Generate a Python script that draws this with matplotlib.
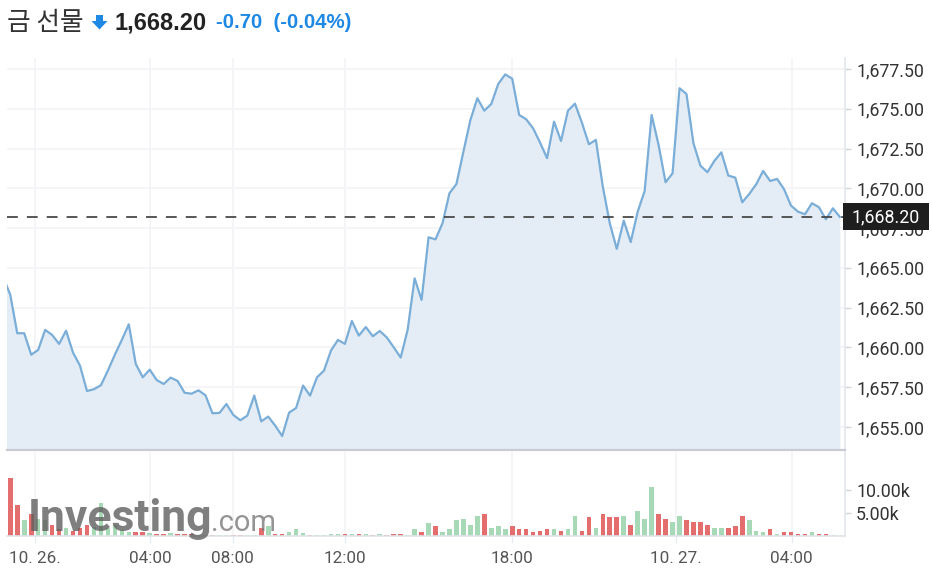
import matplotlib
matplotlib.use("Agg")
import matplotlib.pyplot as plt
import matplotlib.transforms as mtransforms
from matplotlib.patches import Rectangle, Polygon
import numpy as np

# ---------------- data ----------------
title_name = "금 선물"
last_price_text = "1,668.20"
change_text = "-0.70  (-0.04%)"
last_price = 1668.20

# 15-minute closes, bar index -1 .. 119
price = [1664.40,
    1663.30, 1660.89, 1660.89, 1659.54, 1659.84, 1661.10, 1660.78, 1660.22, 1661.05, 1659.67,
    1658.85, 1657.26, 1657.37, 1657.62, 1658.54, 1659.54, 1660.47, 1661.45, 1658.96, 1658.12,
    1658.60, 1657.95, 1657.70, 1658.10, 1657.89, 1657.15, 1657.09, 1657.30, 1656.99, 1655.86,
    1655.88, 1656.44, 1655.75, 1655.42, 1655.71, 1656.97, 1655.35, 1655.65, 1655.08, 1654.43,
    1655.90, 1656.19, 1657.60, 1656.97, 1658.12, 1658.54, 1659.80, 1660.47, 1660.22, 1661.66,
    1660.74, 1661.28, 1660.70, 1661.03, 1660.63, 1660.01, 1659.36, 1661.10, 1664.34, 1662.98,
    1666.92, 1666.79, 1667.80, 1669.69, 1670.27, 1672.30, 1674.29, 1675.66, 1674.88, 1675.30,
    1676.56, 1677.16, 1676.89, 1674.61, 1674.34, 1673.77, 1672.87, 1671.89, 1674.19, 1672.97,
    1674.88, 1675.32, 1674.13, 1672.77, 1673.04, 1670.10, 1667.80, 1666.19, 1667.97, 1666.62,
    1668.53, 1669.83, 1674.61, 1672.72, 1670.38, 1670.94, 1676.29, 1675.93, 1672.83, 1671.42,
    1671.01, 1671.72, 1672.26, 1670.80, 1670.67, 1669.12, 1669.64, 1670.25, 1671.09, 1670.46,
    1670.59, 1669.94, 1668.91, 1668.53, 1668.37, 1669.06, 1668.81, 1668.05, 1668.74, 1668.20]

# volume per bar, bar index 0 .. 119
volume = [
    12600, 6740, 3480, 4860, 3600, 3500, 2400, 1450, 1700, 1100,
    1700, 2400, 2000, 7100, 1800, 2400, 1200, 900, 900, 900,
    600, 500, 500, 700, 500, 360, 360, 300, 300, 300,
    300, 300, 300, 200, 300, 300, 1800, 2200, 500, 500,
    870, 1450, 600, 200, 200, 200, 500, 500, 500, 500,
    360, 360, 200, 360, 200, 360, 500, 200, 1450, 870,
    2750, 2170, 800, 1450, 3480, 3700, 2400, 4350, 4710, 1740,
    2100, 1450, 2100, 1450, 1450, 870, 1090, 1450, 1450, 1160,
    1450, 4350, 1160, 4060, 1740, 4710, 4060, 4060, 4350, 2460,
    5360, 3700, 10580, 4710, 3700, 3040, 4350, 3410, 3040, 3040,
    2400, 1740, 1740, 1740, 2100, 4350, 3410, 1090, 800, 1450,
    430, 800, 800, 500, 500, 800, 500, 500, 200, 100]

# time-axis labels and the bar index at which each falls
time_labels = ["10. 26.", "04:00", "08:00", "12:00", "18:00", "10. 27.", "04:00"]
time_pos = [3.54, 20.04, 31.9, 48.0, 72.0, 95.5, 112.1]

price_ticks = [1655.0, 1657.5, 1660.0, 1662.5, 1665.0, 1667.5, 1670.0, 1672.5, 1675.0, 1677.5]
vol_ticks = [5000, 10000]
vol_tick_labels = ["5.00k", "10.00k"]

# ---------------- figure ----------------
W, H = 932, 583
fig = plt.figure(figsize=(W / 100, H / 100), dpi=100)
fig.patch.set_facecolor("white")

def fy(py):
    return 1 - py / H

def fx(px):
    return px / W

left_px, right_px = 7, 845
ax = fig.add_axes([fx(left_px), fy(450), fx(right_px - left_px), fy(58) - fy(450)])
axv = fig.add_axes([fx(left_px), fy(536), fx(right_px - left_px), fy(452) - fy(536)])

x_price = np.arange(-1, len(price) - 1)
x_vol = np.arange(len(volume))
xlim = (-0.473, 119.74)

price_lo, price_hi = 1653.55, 1678.19

grid_c = "#f3f4f6"
for a in (ax, axv):
    a.set_xlim(*xlim)
    a.set_facecolor("white")
    for s in ("top", "left"):
        a.spines[s].set_visible(False)
    a.spines["right"].set_color("#e3e8ee")
    a.spines["right"].set_linewidth(1.2)
    a.set_xticks(time_pos)
    for xp in time_pos:
        a.axvline(xp, color=grid_c, lw=1.2, zorder=0)

# price panel
ax.set_ylim(price_lo, price_hi)
for v in price_ticks:
    ax.axhline(v, color=grid_c, lw=1.2, zorder=0)
ax.fill_between(x_price, price, price_lo, color="#e4edf5", zorder=1, lw=0)
ax.plot(x_price, price, color="#7aaed8", lw=1.6, zorder=3)
ax.axhline(last_price, color="#4a4a4a", lw=1.3, dashes=(6, 5), zorder=4)
ax.spines["bottom"].set_color("#c8ccd2")
ax.spines["bottom"].set_linewidth(1.6)
ax.yaxis.tick_right()
ax.set_yticks(price_ticks)
ax.set_yticklabels([f"{v:,.2f}" for v in price_ticks])
ax.tick_params(axis="y", length=4, width=1, color="#d0d5db", pad=4,
               labelsize=12.8, labelcolor="#333333")
ax.tick_params(axis="x", length=0, labelbottom=False)
for lab in ax.get_yticklabels():
    lab.set_fontfamily("Roboto")

# last price box
trans = mtransforms.blended_transform_factory(ax.transAxes, ax.transData)
axw_px = right_px - left_px
box_h = 27 / ((450 - 58) / (price_hi - price_lo))
ax.add_patch(Rectangle((1.0 - 2 / axw_px, last_price - box_h / 2), 86 / axw_px, box_h,
                       transform=trans, clip_on=False, facecolor="#1e1e1e",
                       edgecolor="none", zorder=10))
ax.text(1.0 + 41 / axw_px, last_price, last_price_text, transform=trans,
        ha="center", va="center", color="white", fontsize=12.8,
        family="Roboto", zorder=11, clip_on=False)

# volume panel
vol_max = (536 - 452) / 23 * 5000
axv.set_ylim(0, vol_max)
up = "#a7d9b6"
down = "#e46d6d"
colors = [up if price[i + 1] >= price[i] else down for i in range(len(volume))]
axv.bar(x_vol, volume, width=0.66, color=colors, zorder=2, lw=0)
axv.spines["bottom"].set_color("#dfe4ea")
axv.spines["bottom"].set_linewidth(1.2)
axv.yaxis.tick_right()
axv.set_yticks(vol_ticks)
axv.set_yticklabels(vol_tick_labels)
axv.tick_params(axis="y", length=4, width=1, color="#d0d5db", pad=4,
                labelsize=12.8, labelcolor="#333333")
axv.set_xticklabels(time_labels)
axv.tick_params(axis="x", length=5, width=1, color="#e8ecf0", pad=6,
                labelsize=12.3, labelcolor="#555555")
for lab in axv.get_yticklabels() + axv.get_xticklabels():
    lab.set_fontfamily("Roboto")

# watermark
fig.text(fx(28), fy(531), "Investing", fontsize=32, family="Roboto", fontweight="bold",
         color="#5f5f5f", alpha=0.8, ha="left", va="baseline", zorder=20)
fig.text(fx(211), fy(531), ".com", fontsize=21, family="Roboto",
         color="#7a7a7a", alpha=0.8, ha="left", va="baseline", zorder=20)

# header
fig.text(fx(7), fy(23), title_name, fontsize=18.5, family=["Noto Sans CJK KR", "DejaVu Sans"],
         color="#333333", ha="left", va="center")
fig.patches.append(Polygon([[fx(96), fy(15)], [fx(103), fy(15)], [fx(103), fy(21)],
                            [fx(107.5), fy(21)], [fx(99.5), fy(29.5)], [fx(91.5), fy(21)],
                            [fx(96), fy(21)]], closed=True, facecolor="#1e88e5",
                           edgecolor="none", transform=fig.transFigure))
fig.text(fx(114), fy(23), last_price_text, fontsize=17, family="Liberation Sans",
         fontweight="bold", color="#222222", ha="left", va="center")
fig.text(fx(216), fy(23), change_text, fontsize=14.7, family="Liberation Sans",
         fontweight="bold", color="#1e88e5", ha="left", va="center")

fig.savefig("out.png", dpi=100, facecolor="white")
